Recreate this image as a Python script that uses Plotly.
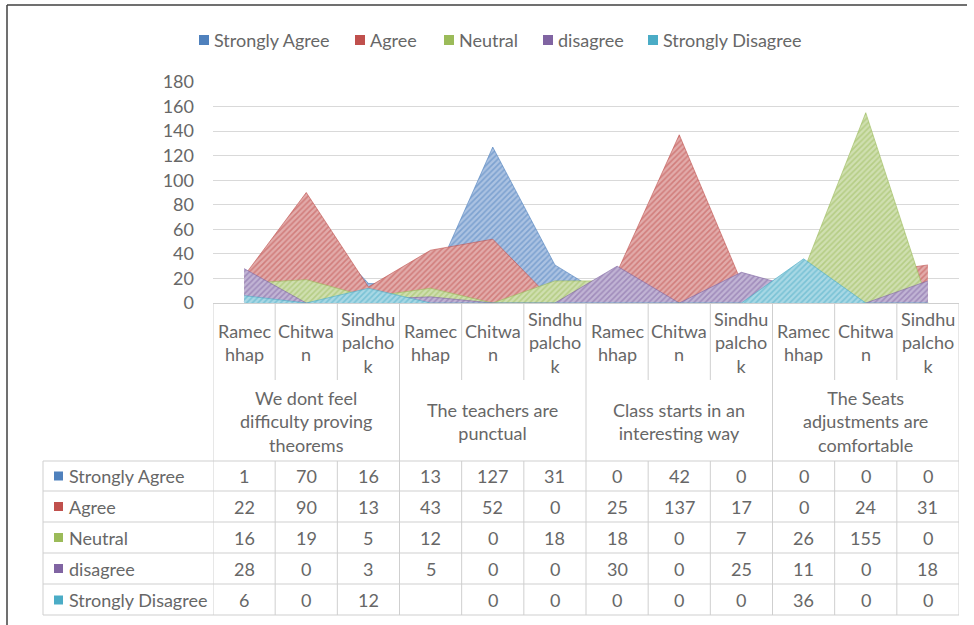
import plotly.graph_objects as go

# ---------------- data ----------------
districts = ["Ramec<br>hhap", "Chitwa<br>n", "Sindhu<br>palcho<br>k"]
statements = [
    "We dont feel<br>difficulty proving<br>theorems",
    "The teachers are<br>punctual",
    "Class starts in an<br>interesting way",
    "The Seats<br>adjustments are<br>comfortable",
]
series_names = ["Strongly Agree", "Agree", "Neutral", "disagree", "Strongly Disagree"]
strongly_agree = [1, 70, 16, 13, 127, 31, 0, 42, 0, 0, 0, 0]
agree = [22, 90, 13, 43, 52, 0, 25, 137, 17, 0, 24, 31]
neutral = [16, 19, 5, 12, 0, 18, 18, 0, 7, 26, 155, 0]
disagree = [28, 0, 3, 5, 0, 0, 30, 0, 25, 11, 0, 18]
strongly_disagree = [6, 0, 12, None, 0, 0, 0, 0, 0, 36, 0, 0]
y_ticks = [0, 20, 40, 60, 80, 100, 120, 140, 160, 180]

series_values = [strongly_agree, agree, neutral, disagree, strongly_disagree]
base_colors = ["#4F81BD", "#C0504D", "#9BBB59", "#8064A2", "#4BACC6"]
light_colors = ["#ABC2E2", "#E2ABAA", "#CFDFB0", "#C1B4D4", "#A8D8E5"]

W, H = 974, 625
FONT = "Lato"
TXT = "#676767"
GRID = "#D9D9D9"
TLINE = "#CFCFCF"
FS = 18

def px(xp):
    return xp / W

def py(yp):
    return 1 - yp / H

n = len(strongly_agree)
xs = list(range(n))

fig = go.Figure()
for name, vals, bc, lc in zip(series_names, series_values, base_colors, light_colors):
    yv = [0 if v is None else v for v in vals]  # blank cells plot as zero (Excel behaviour)
    fig.add_trace(go.Scatter(
        x=xs, y=yv, mode="lines", name=name, fill="tozeroy",
        line=dict(color=bc, width=0.6),
        fillcolor=lc,
        fillpattern=dict(shape="/", size=4, solidity=0.4, fgcolor=bc, bgcolor=lc),
        showlegend=False, hoverinfo="skip",
    ))

X0, X1 = 213, 959
Y0, Y180 = 303, 82

fig.update_layout(
    width=W, height=H,
    margin=dict(l=0, r=0, t=0, b=0, pad=0, autoexpand=False),
    paper_bgcolor="white", plot_bgcolor="white",
    font=dict(family=FONT, size=FS, color=TXT),
    xaxis=dict(domain=[px(X0), px(X1)], range=[-0.5, n - 0.5], showticklabels=False,
               showgrid=False, zeroline=False, showline=True, linecolor=TLINE, linewidth=1,
               fixedrange=True, automargin=False),
    yaxis=dict(domain=[py(Y0), py(Y180)], range=[0, 180], tickvals=y_ticks,
               showgrid=True, gridcolor=GRID, gridwidth=1, zeroline=False, showline=False,
               tickfont=dict(family=FONT, size=FS, color=TXT), ticklabelstandoff=18,
               fixedrange=True, automargin=False),
    showlegend=False,
)

shapes = []
ann = []

def hline(y, xa, xb, xref="paper", color=TLINE, w=1):
    shapes.append(dict(type="line", xref=xref, yref="paper", x0=xa, x1=xb, y0=py(y), y1=py(y),
                       line=dict(color=color, width=w)))

def vline(x, ya, yb, xref="paper", color=TLINE, w=1):
    shapes.append(dict(type="line", xref=xref, yref="paper", x0=x, x1=x, y0=py(ya), y1=py(yb),
                       line=dict(color=color, width=w)))

# outer chart border
hline(5, px(7), px(967), color="#404040", w=1.5)
vline(px(7), 5, 625, color="#404040", w=1.5)

# table geometry
row_lines = [461, 491, 522, 553, 584, 615]
row_centers = [476, 506.5, 537.5, 568.5, 600]
LBL_X0 = 43
for y in row_lines:
    hline(y, px(LBL_X0), px(X1))
vline(px(LBL_X0), row_lines[0], row_lines[-1])
# column boundaries in data coordinates
for b in range(n + 1):
    xb = b - 0.5
    if b % 3 == 0:
        vline(xb, Y0, row_lines[-1], xref="x")
    else:
        vline(xb, Y0, 380, xref="x")
        vline(xb, row_lines[0], row_lines[-1], xref="x")

def text(x, y, s, xref="x", xanchor="center"):
    ann.append(dict(x=x, y=y, xref=xref, yref="paper", text=s, showarrow=False,
                    xanchor=xanchor, yanchor="middle",
                    font=dict(size=FS, color=TXT, family=FONT)))

# district labels
for i in range(n):
    text(i, py(342), districts[i % 3])
# statement labels
for g, s in enumerate(statements):
    text(3 * g + 1, py(421), s)
# data rows
for r, (name, vals, bc) in enumerate(zip(series_names, series_values, base_colors)):
    yc = row_centers[r]
    shapes.append(dict(type="rect", xref="paper", yref="paper",
                       x0=px(54), x1=px(63), y0=py(yc - 4.5), y1=py(yc + 4.5),
                       fillcolor=bc, line=dict(width=0)))
    text(px(67), py(yc), name, xref="paper", xanchor="left")
    for i, v in enumerate(vals):
        if v is None:
            continue
        text(i, py(yc), str(v))

# legend (top)
legend_x = [199, 355, 444, 543, 648]
LEG_Y = 40
for name, bc, lx in zip(series_names, base_colors, legend_x):
    shapes.append(dict(type="rect", xref="paper", yref="paper",
                       x0=px(lx), x1=px(lx + 10), y0=py(LEG_Y - 5), y1=py(LEG_Y + 5),
                       fillcolor=bc, line=dict(width=0)))
    text(px(lx + 13), py(LEG_Y), name, xref="paper", xanchor="left")

fig.update_layout(shapes=shapes, annotations=ann)
fig.write_html("out.html")
